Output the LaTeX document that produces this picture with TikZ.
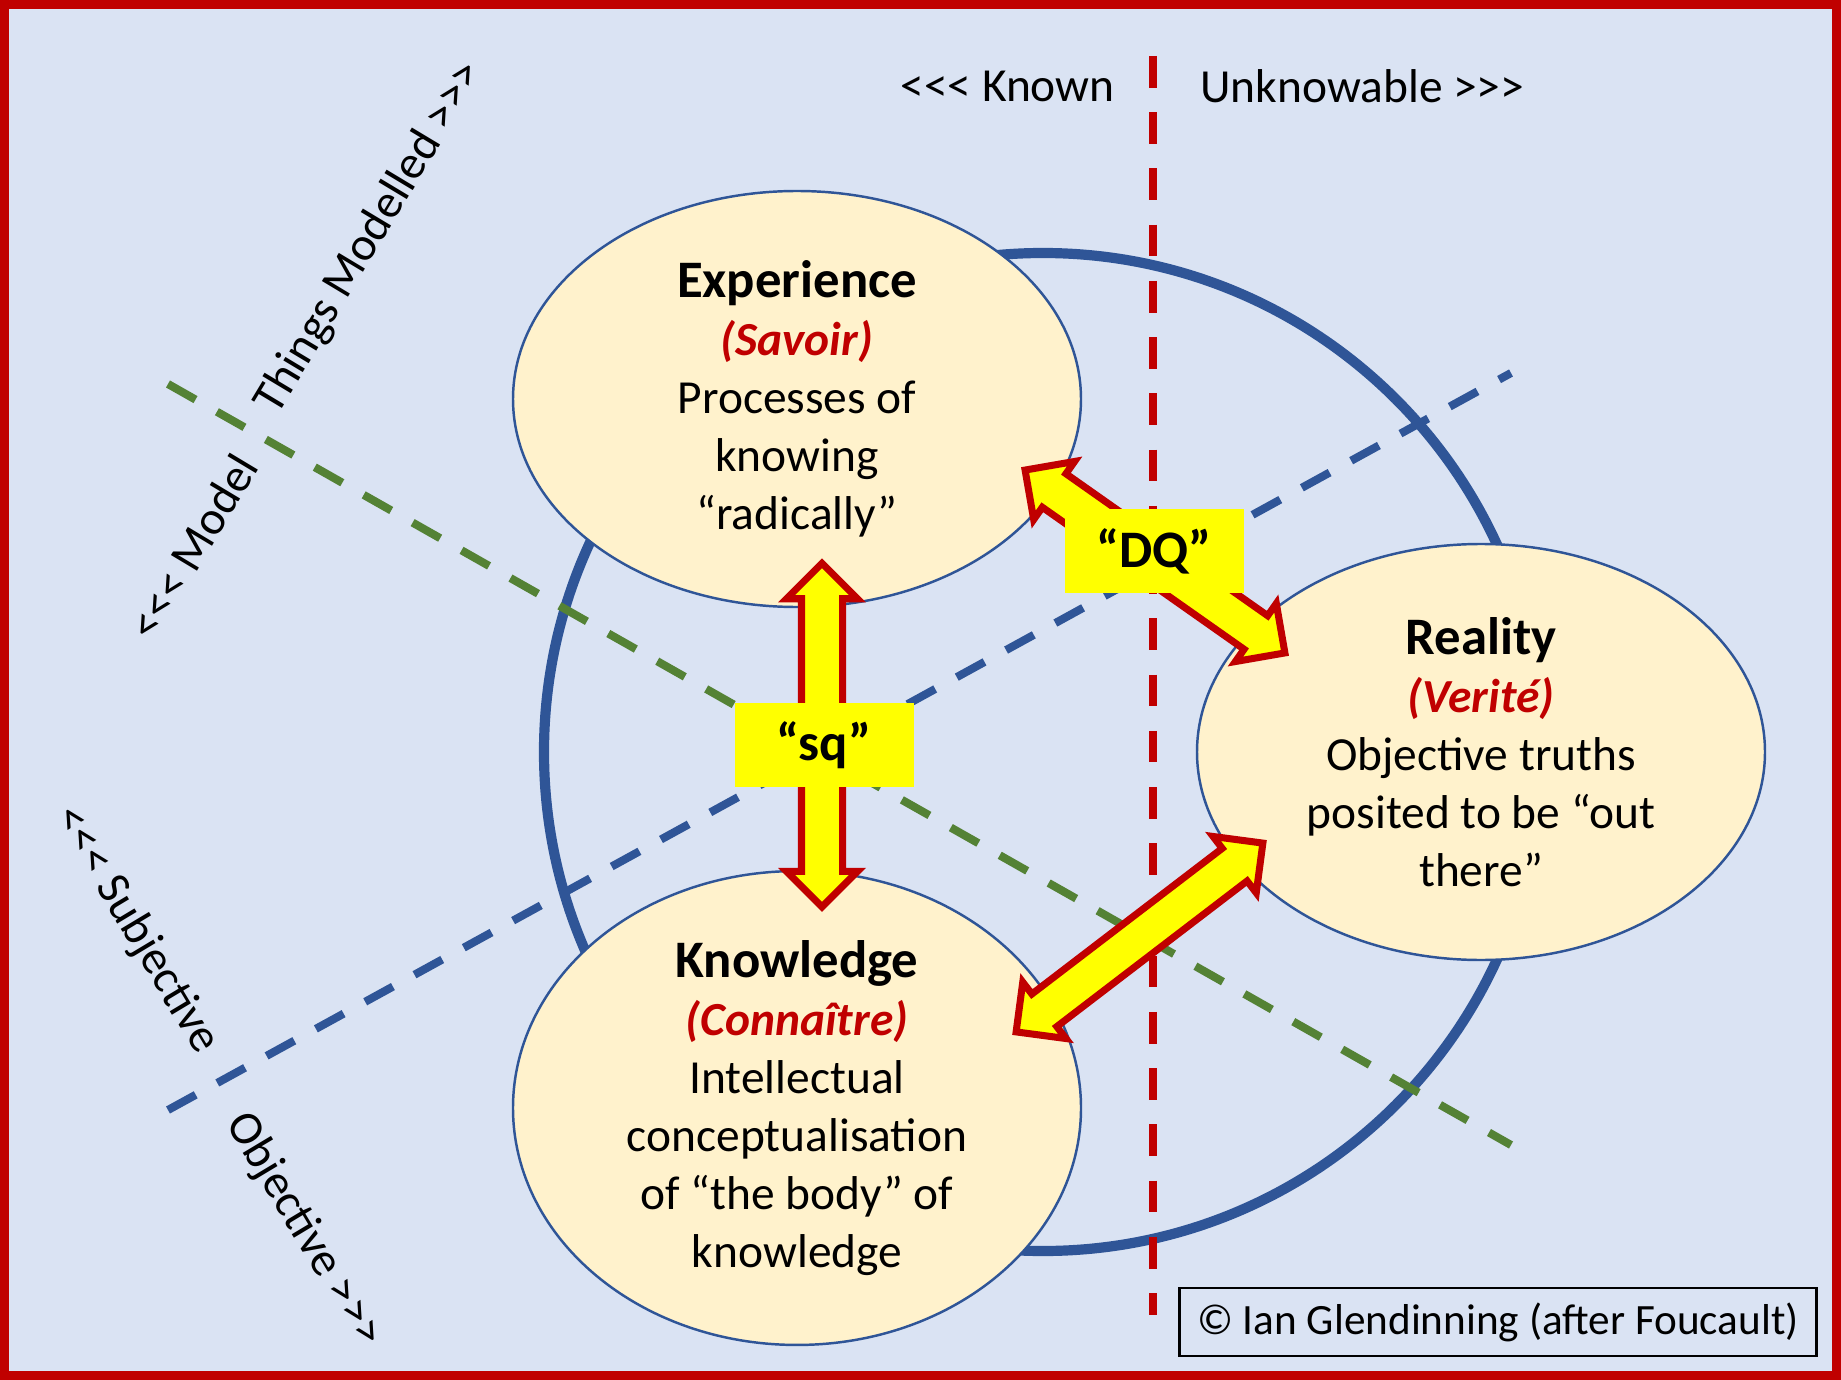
\documentclass[tikz,border=0pt]{standalone}
\usepackage{fontspec}
\newfontfamily\carlito{Carlito}
\usetikzlibrary{shapes.geometric,shapes.arrows,calc}

\definecolor{bgblue}{HTML}{DAE3F3}
\definecolor{framered}{HTML}{C00000}
\definecolor{navy}{HTML}{2F5597}
\definecolor{dashgreen}{HTML}{548235}
\definecolor{cream}{HTML}{FFF2CC}
\definecolor{tagyellow}{HTML}{FFFF00}

\newcommand{\ctitle}[1]{{\fontsize{15}{16.5}\selectfont\bfseries #1}}
\newcommand{\cfrench}[1]{{\color{framered}\bfseries\itshape #1}}

\tikzset{
  bubble/.style={ellipse, draw=navy, line width=0.7pt, fill=cream, minimum width=5.68cm,
    minimum height=4.16cm, inner sep=0pt, align=center, font=\fontsize{13.5}{16.5}\selectfont},
  dashline/.style={line width=2.3pt, dash pattern=on 9pt off 7pt},
  tag/.style={fill=tagyellow, minimum width=1.79cm, minimum height=0.84cm, inner sep=0pt,
    font=\fontsize{15}{18}\selectfont\bfseries},
  dblarrow/.style={double arrow, draw=framered, fill=tagyellow, line width=2pt, inner xsep=0pt,
    inner ysep=0.17cm, minimum width=0.64cm, double arrow head extend=0.15cm, double arrow tip angle=90},
  fatarrow/.style={to path={let \p1=(\tikztostart), \p2=(\tikztotarget),
    \n1={atan2(\y2-\y1,\x2-\x1)}, \n2={veclen(\x2-\x1,\y2-\y1)} in
    node[dblarrow, rotate=\n1, minimum height=\n2] at ($(\tikztostart)!.5!(\tikztotarget)$) {}}},
  axislabel/.style={font=\fontsize{13.5}{16}\selectfont},
}

\begin{document}
\carlito
\begin{tikzpicture}
  \useasboundingbox (0,0) rectangle (18.41,-13.80);
  \fill[bgblue] (0,0) rectangle (18.41,-13.80);
  \draw[framered, line width=0.09cm] (0.045,-0.045) rectangle (18.365,-13.755);

  % ring and dividing lines:
  \draw[navy, line width=2.9pt] (10.43,-7.52) circle (4.99);
  \coordinate (blueA) at (1.68,-11.10);
  \coordinate (blueB) at (15.11,-3.73);
  \coordinate (greenA) at (1.68,-3.84);
  \coordinate (greenB) at (15.11,-11.45);
  \coordinate (redA) at (11.53,-0.56);
  \coordinate (redB) at (11.53,-13.15);
  \draw[dashline, navy] (blueA) -- (blueB);
  \draw[dashline, dashgreen] (greenA) -- (greenB);
  \draw[dashline, framered] (redA) -- (redB);

  % the three domains:
  \node[bubble] (exp) at (7.97,-3.99) {\ctitle{Experience}\\ \cfrench{(Savoir)}\\ Processes of\\ knowing\\ “radically”};
  \node[bubble] (real) at (14.81,-7.52) {\ctitle{Reality}\\ \cfrench{(Verité)}\\ Objective truths\\ posited to be “out\\ there”};
  \node[bubble] (know) at (7.97,-11.08) {\ctitle{Knowledge}\\ \cfrench{(Connaître)}\\ Intellectual\\ conceptualisation\\ of “the body” of\\ knowledge};

  % arrows between them:
  \coordinate (sqA) at ($(exp.south)+(0.25,0.45)$);
  \coordinate (sqB) at ($(know.north)+(0.25,-0.37)$);
  \coordinate (dqA) at ($(exp.center)+(2.28,-0.71)$);
  \coordinate (dqB) at ($(real.center)+(-1.96,0.99)$);
  \coordinate (lowA) at ($(real.center)+(-2.18,-0.91)$);
  \coordinate (lowB) at ($(know.center)+(2.19,0.76)$);
  \path (sqA) to[fatarrow] (sqB);
  \path (dqA) to[fatarrow] (dqB);
  \path (lowA) to[fatarrow] (lowB);
  \node[tag] (sq) at (8.24,-7.45) {“sq”};
  \node[tag] (dq) at (11.54,-5.51) {“DQ”};

  % axis labels:
  \node[axislabel, anchor=east] (known) at (11.27,-0.86) {<<< Known};
  \node[axislabel, anchor=west] (unknow) at (11.88,-0.86) {Unknowable >>>};
  \node[axislabel, rotate=59] (model) at (1.93,-5.47) {<<< Model};
  \node[axislabel, rotate=59] (things) at (3.70,-2.38) {Things Modelled >>>};
  \node[axislabel, rotate=-59] (subj) at (1.36,-9.30) {<<< Subjective};
  \node[axislabel, rotate=-59] (obj) at (3.04,-12.30) {Objective >>>};

  \node[draw=black, line width=0.8pt, minimum width=6.37cm, minimum height=0.68cm,
    font=\fontsize{12.3}{14}\selectfont] (copy) at (14.98,-13.22) {© Ian Glendinning (after Foucault)};
\end{tikzpicture}
\end{document}
